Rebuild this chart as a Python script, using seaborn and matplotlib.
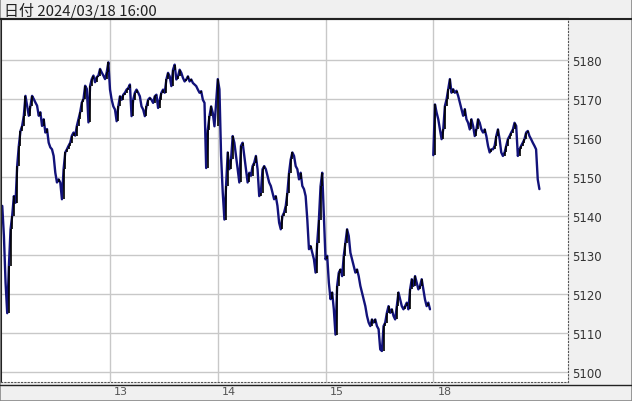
import numpy as np
import pandas as pd
import seaborn as sns
import matplotlib
matplotlib.use("Agg")
import matplotlib.pyplot as plt
from matplotlib.lines import Line2D
from matplotlib.patches import Rectangle
import matplotlib.transforms as mtransforms

# prices, one bar every ~1/65 of a session
day12 = [5142.5, 5134.8, 5122.8, 5115.0, 5127.0, 5136.5, 5140.0, 5145.0, 5143.3, 5152.7,
         5157.9, 5161.7, 5163.0, 5165.6, 5170.7, 5168.2, 5165.6, 5168.2, 5170.7, 5169.9,
         5169.0, 5168.2, 5165.6, 5166.5, 5163.0, 5164.7, 5161.3, 5162.2, 5158.7, 5157.5,
         5157.0, 5155.3, 5151.0, 5148.5, 5149.3, 5148.5, 5144.2, 5151.9, 5156.2, 5157.0,
         5157.9, 5158.7, 5160.5, 5161.3, 5160.5, 5163.0, 5164.7, 5166.5, 5169.0, 5169.9,
         5173.3, 5172.5, 5163.9, 5173.3, 5175.0, 5175.9, 5174.2, 5175.5, 5175.9, 5177.6,
         5176.7, 5175.9, 5175.0, 5176.7, 5179.3]
day13 = [5172.3, 5169.7, 5168.0, 5167.2, 5164.2, 5168.0, 5170.6, 5169.7, 5171.0, 5171.5,
         5172.3, 5172.7, 5173.6, 5165.5, 5169.7, 5171.5, 5172.3, 5171.5, 5170.6, 5168.0,
         5167.2, 5165.5, 5168.0, 5169.7, 5170.2, 5169.7, 5168.9, 5170.6, 5171.0, 5167.6,
         5169.7, 5171.5, 5172.3, 5171.5, 5174.9, 5176.6, 5175.7, 5173.2, 5177.4, 5178.7,
         5174.9, 5175.7, 5177.4, 5176.6, 5175.3, 5174.4, 5174.9, 5175.7, 5174.4, 5174.9,
         5174.0, 5173.6, 5173.2, 5172.3, 5171.5, 5171.9, 5169.7, 5168.9, 5152.2, 5162.0,
         5165.5, 5168.0, 5166.3, 5162.9]
day14 = [5175.0, 5172.4, 5155.3, 5145.9, 5139.0, 5147.6, 5156.2, 5151.9, 5154.4, 5160.4,
         5158.7, 5155.3, 5151.9, 5148.5, 5157.9, 5158.7, 5155.3, 5151.9, 5148.5, 5151.0,
         5150.2, 5152.7, 5153.6, 5155.3, 5151.9, 5145.0, 5145.9, 5151.9, 5152.7, 5151.9,
         5150.2, 5148.5, 5147.6, 5145.9, 5144.2, 5145.0, 5142.5, 5138.2, 5136.5, 5139.9,
         5140.8, 5142.5, 5145.9, 5151.0, 5154.4, 5156.2, 5155.3, 5152.7, 5151.9, 5149.3,
         5151.0, 5147.6, 5146.8, 5145.0, 5139.0, 5131.4, 5132.2, 5130.5, 5128.8, 5125.4,
         5133.1, 5139.0, 5147.6, 5151.0]
day15 = [5128.8, 5129.7, 5122.8, 5118.6, 5120.3, 5116.0, 5109.5, 5122.0, 5125.4, 5126.2,
         5124.5, 5129.7, 5133.1, 5136.5, 5134.8, 5130.5, 5128.8, 5127.1, 5125.4, 5126.2,
         5124.5, 5122.0, 5120.3, 5118.5, 5116.8, 5114.3, 5112.6, 5111.7, 5113.4, 5112.6,
         5113.4, 5111.7, 5110.9, 5105.7, 5105.3, 5111.7, 5112.6, 5115.1, 5116.8, 5115.1,
         5116.0, 5114.3, 5113.4, 5116.8, 5120.3, 5118.5, 5116.8, 5116.0, 5116.8, 5117.7,
         5116.0, 5121.1, 5123.7, 5122.0, 5124.5, 5122.8, 5121.1, 5122.0, 5123.7, 5121.1,
         5118.5, 5116.8, 5117.7, 5116.0]
day18 = [5155.5, 5168.5, 5166.4, 5164.7, 5162.1, 5159.6, 5162.1, 5168.1, 5169.8, 5172.4,
         5175.0, 5171.5, 5172.4, 5171.5, 5172.0, 5170.7, 5169.0, 5167.3, 5165.6, 5167.3,
         5164.7, 5163.8, 5162.1, 5164.7, 5163.0, 5160.4, 5162.1, 5164.7, 5163.8, 5162.1,
         5161.3, 5162.1, 5160.4, 5157.9, 5156.2, 5157.0, 5157.0, 5157.9, 5160.4, 5162.1,
         5159.6, 5156.2, 5155.3, 5156.2, 5157.9, 5159.6, 5160.4, 5161.3, 5162.1, 5163.8,
         5163.0, 5155.3, 5157.0, 5157.9, 5158.7, 5159.6, 5161.3, 5161.7, 5160.4, 5159.6,
         5158.7, 5157.9, 5157.0, 5149.3, 5146.8]

day_labels = ["12", "13", "14", "15", "18"]
y_ticks = [5100, 5110, 5120, 5130, 5140, 5150, 5160, 5170, 5180]
header = "日付 2024/03/18 16:00"
BARS = 65

rows = []
for d, prices in enumerate([day12, day13, day14, day15, day18]):
    seg = 0 if d < 4 else 1
    for i, p in enumerate(prices):
        rows.append((d + i / BARS, p, seg))
df = pd.DataFrame(rows, columns=["t", "price", "seg"])

sns.set_theme(style="white")
plt.rcParams["font.family"] = ["DejaVu Sans"]

W, H = 632, 402
fig = plt.figure(figsize=(W / 100, H / 100), dpi=100, facecolor="#f0f0f0")
ax = fig.add_axes([1 / W, (H - 383) / H, 567 / W, (383 - 20) / H])
ax.set_facecolor("white")

sns.lineplot(data=df, x="t", y="price", units="seg", estimator=None,
             color="#12127a", lw=1.7, ax=ax, legend=False)
# up-moves drawn darker, like the chart's bars
for _, g in df.groupby("seg"):
    t = g["t"].to_numpy()
    p = g["price"].to_numpy()
    up = np.diff(p) > 0
    ax.vlines(t[1:][up], p[:-1][up], p[1:][up], color="black", lw=1.2)

ax.set_xlim(-0.0116, 5.25)
ax.set_ylim(5097.36, 5190.4)
ax.set_xticks([1, 2, 3, 4])
ax.set_xticklabels(day_labels[1:])
ax.set_yticks(y_ticks)
ax.yaxis.tick_right()
ax.grid(True, color="#c8c8c8", lw=1.0)
ax.set_axisbelow(True)
ax.tick_params(axis="both", length=0, labelsize=8.5, colors="#333333")
ax.tick_params(axis="x", labelsize=8, pad=3, colors="#555555")
ax.tick_params(axis="y", pad=3)
off = mtransforms.ScaledTranslation(3 / 72, 0, fig.dpi_scale_trans)
for lab in ax.get_xticklabels():
    lab.set_horizontalalignment("left")
    lab.set_transform(lab.get_transform() + off)
ax.set_xlabel("")
ax.set_ylabel("")

for side in ["right", "bottom"]:
    ax.spines[side].set_linestyle((0, (1, 2)))
    ax.spines[side].set_color("#555555")
    ax.spines[side].set_linewidth(0.8)
ax.spines["left"].set_color("#222222")
ax.spines["left"].set_linewidth(1.5)
ax.spines["top"].set_color("#222222")
ax.spines["top"].set_linewidth(1.5)

# frame lines of the chart window
fig.add_artist(Line2D([0, 1], [(H - 20) / H] * 2, color="#222222", lw=1.5))
fig.add_artist(Line2D([0, 1], [(H - 386) / H] * 2, color="#222222", lw=1.0))
fig.add_artist(Rectangle((0, 0), 1, 1, transform=fig.transFigure, fill=False,
                         edgecolor="#888888", lw=1.2))
fig.text(4 / W, 1 - 10.5 / H, header, va="center", ha="left", fontsize=10.8,
         color="#222222", family=["Noto Sans CJK JP", "DejaVu Sans"])

fig.savefig("out.png", dpi=100, facecolor=fig.get_facecolor())
